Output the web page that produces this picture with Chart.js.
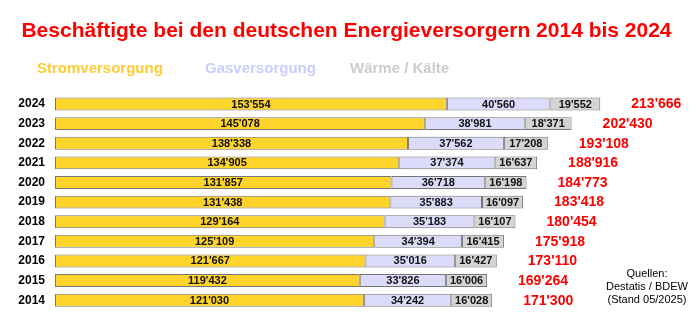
<!DOCTYPE html>
<html>
<head>
<meta charset="utf-8">
<script src="https://cdn.jsdelivr.net/npm/chart.js@4"></script>
<style>
  html, body { margin: 0; padding: 0; background: #ffffff; }
  #wrap { width: 700px; height: 329px; }
</style>
</head>
<body>
<div id="wrap"><canvas id="myChart" width="700" height="329"></canvas></div>
<script>
// Werte (Beschäftigte), von oben nach unten
const years = ['2024', '2023', '2022', '2021', '2020', '2019', '2018', '2017', '2016', '2015', '2014'];
const strom = [153554, 145078, 138338, 134905, 131857, 131438, 129164, 125109, 121667, 119432, 121030];
const gas = [40560, 38981, 37562, 37374, 36718, 35883, 35183, 34394, 35016, 33826, 34242];
const waerme = [19552, 18371, 17208, 16637, 16198, 16097, 16107, 16415, 16427, 16006, 16028];
const seriesNames = ['Stromversorgung', 'Gasversorgung', 'Wärme / Kälte'];
const sourceLines = ['Quellen:', 'Destatis / BDEW', '(Stand 05/2025)'];

const FONT = 'Arial, "Liberation Sans", sans-serif';

function fmt(n) {
    return String(n).replace(/\B(?=(\d{3})+(?!\d))/g, "'");
}

// labels inside bars, totals at the right, legend text, source
const extras = {
    id: 'extras',
    afterDatasetsDraw(chart) {
        const ctx = chart.ctx;
        const xScale = chart.scales.x;
        ctx.save();
        ctx.textBaseline = 'middle';
        ctx.textAlign = 'center';
        ctx.fillStyle = '#111111';
        ctx.font = 'bold 11px ' + FONT;
        chart.data.datasets.forEach((ds, di) => {
            chart.getDatasetMeta(di).data.forEach((bar, i) => {
                ctx.fillText(fmt(ds.data[i]), (bar.x + bar.base) / 2, bar.y + 0.5);
            });
        });

        // totals
        ctx.textAlign = 'left';
        ctx.fillStyle = '#ff0000';
        ctx.font = 'bold 14px ' + FONT;
        const meta = chart.getDatasetMeta(0);
        years.forEach((y, i) => {
            const total = strom[i] + gas[i] + waerme[i];
            ctx.fillText(fmt(total), xScale.getPixelForValue(total) + 31, meta.data[i].y + 0.5);
        });

        // legend
        const legendColors = ['#ffcc33', '#ccccff', '#cccccc'];
        const legendX = [37, 205, 350];
        ctx.font = 'bold 15px ' + FONT;
        ctx.textBaseline = 'alphabetic';
        seriesNames.forEach((name, i) => {
            ctx.fillStyle = legendColors[i];
            ctx.fillText(name, legendX[i], 73);
        });

        // source
        ctx.textAlign = 'center';
        ctx.textBaseline = 'middle';
        ctx.fillStyle = '#000000';
        ctx.font = '11px ' + FONT;
        sourceLines.forEach((line, i) => {
            ctx.fillText(line, 647, 274 + i * 13);
        });
        ctx.restore();
    }
};

const ctx = document.getElementById('myChart').getContext('2d');
new Chart(ctx, {
    type: 'bar',
    data: {
        labels: years,
        datasets: [
            { label: seriesNames[0], data: strom, backgroundColor: '#ffd42a' },
            { label: seriesNames[1], data: gas, backgroundColor: '#dcdcfa' },
            { label: seriesNames[2], data: waerme, backgroundColor: '#d4d4d4' }
        ].map(d => Object.assign(d, {
            borderColor: '#777777',
            borderWidth: 1,
            borderSkipped: false,
            categoryPercentage: 1,
            barPercentage: 0.66
        }))
    },
    options: {
        indexAxis: 'y',
        responsive: false,
        animation: false,
        layout: { padding: { left: 0, right: 7, top: 0, bottom: 19 } },
        plugins: {
            legend: { display: false },
            tooltip: { enabled: false },
            title: {
                display: true,
                text: 'Beschäftigte bei den deutschen Energieversorgern 2014 bis 2024',
                color: '#ff0000',
                font: { family: FONT, size: 21, weight: 'bold' },
                padding: { top: 19, bottom: 50 }
            }
        },
        scales: {
            x: {
                stacked: true,
                display: false,
                min: 0,
                max: 250000
            },
            y: {
                stacked: true,
                grid: { display: false, drawTicks: false },
                border: { display: false },
                ticks: {
                    color: '#000000',
                    padding: 10,
                    font: { family: FONT, size: 12, weight: 'bold' }
                },
                afterFit(scale) { scale.width = 55; }
            }
        }
    },
    plugins: [extras]
});
</script>
</body>
</html>
